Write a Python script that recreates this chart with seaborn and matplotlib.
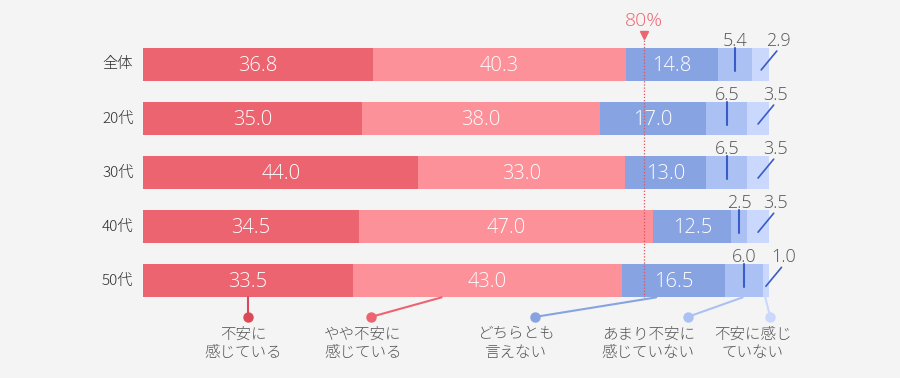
import matplotlib
matplotlib.use("Agg")
import numpy as np
import pandas as pd
import matplotlib.pyplot as plt
import seaborn as sns

# data
groups = ["全体", "20代", "30代", "40代", "50代"]
anxious = [36.8, 35.0, 44.0, 34.5, 33.5]
somewhat_anxious = [40.3, 38.0, 33.0, 47.0, 43.0]
neither = [14.8, 17.0, 13.0, 12.5, 16.5]
not_very = [5.4, 6.5, 6.5, 2.5, 6.0]
not_at_all = [2.9, 3.5, 3.5, 3.5, 1.0]
legend_labels = ["不安に\n感じている", "やや不安に\n感じている", "どちらとも\n言えない",
                 "あまり不安に\n感じていない", "不安に感じ\nていない"]
marker_pct = 80

colors = ["#ec6470", "#fc9199", "#87a3e1", "#abc1f4", "#c9d8fc"]
dot_colors = ["#dc4a58", "#ec6470", "#87a3e1", "#abc1f4", "#c9d8fc"]
bg = "#f4f4f4"

sns.set_theme(style="white")
plt.rcParams["font.family"] = ["Noto Sans CJK JP", "DejaVu Sans"]
num_font = ["Open Sans", "Noto Sans CJK JP", "DejaVu Sans"]

df = pd.DataFrame({
    "group": groups,
    "s1": anxious, "s2": somewhat_anxious, "s3": neither,
    "s4": not_very, "s5": not_at_all,
})
segs = ["s1", "s2", "s3", "s4", "s5"]
cum = df[segs].cumsum(axis=1)

fig = plt.figure(figsize=(9, 3.78), dpi=100, facecolor=bg)
ax = fig.add_axes([143 / 900, 1 - 362 / 378, 626 / 900, (362 - 10.4) / 378])
ax.set_facecolor(bg)

# stacked bars: draw cumulative totals from longest to shortest
for k in range(4, -1, -1):
    sns.barplot(x=cum[segs[k]], y=df["group"], orient="h", color=colors[k],
                saturation=1, width=0.61, linewidth=0, ax=ax)

ax.set_xlim(0, 100)
ax.set_ylim(5.5, -1)
ax.axis("off")

text_gray = "#555555"
line_blue = "#3a5cc6"

for i in range(len(groups)):
    ax.text(-6.55, i, groups[i], ha="left", va="center", fontsize=11, color="#2e2e2e",
            fontweight="light")
    starts = np.concatenate([[0], cum.iloc[i].values[:-1]])
    vals = df.loc[i, segs].values
    mids = starts + vals / 2
    for k in range(3):
        ax.text(mids[k], i + 0.03, f"{vals[k]:.1f}", ha="center", va="center",
                fontsize=14.5, color="white", family=num_font, fontweight="light")
    # 4th segment: vertical leader
    ax.plot([mids[3], mids[3]], [i - 0.305, i + 0.12], color=line_blue, lw=1.5, zorder=5)
    ax.text(mids[3], i - 0.35, f"{vals[3]:.1f}", ha="center", va="baseline",
            fontsize=13, color=text_gray, family=num_font, fontweight="light")
    # 5th segment: diagonal leader
    ax.plot([mids[4], mids[4] + 2.5], [i + 0.1, i - 0.25], color=line_blue, lw=1.2,
            zorder=5, clip_on=False)
    ax.text(mids[4] + 2.8, i - 0.35, f"{vals[4]:.1f}", ha="center", va="baseline",
            fontsize=13, color=text_gray, clip_on=False, family=num_font,
            fontweight="light")

# 80% marker
ax.plot([marker_pct, marker_pct], [-0.5, 4.305], color="#e0505e", lw=0.9,
        linestyle=(0, (1, 1.5)), zorder=6)
ax.plot([marker_pct], [-0.54], marker="v", color="#ec6470", markersize=6, zorder=6)
ax.text(marker_pct, -0.8, f"{marker_pct}%", ha="center", va="center",
        fontsize=14, color="#ec6470", family=num_font, fontweight="light")

# legend under the last bar
bar_bottom = 4 + 0.305
dot_y = 4.667
line_start = [16.75, 47.7, 82.0, 95.8, 99.4]
dot_x = [16.75, 36.4, 62.6, 87.0, 100.2]
text_x = [16.05, 35.1, 59.5, 80.7, 97.4]
for k in range(5):
    ax.plot([line_start[k], dot_x[k]], [bar_bottom, dot_y], color=dot_colors[k],
            lw=1.5, zorder=1, clip_on=False)
    ax.plot([dot_x[k]], [dot_y], marker="o", color=dot_colors[k], markersize=6.5,
            zorder=2, clip_on=False)
    ax.text(text_x[k], 5.15, legend_labels[k], ha="center", va="center",
            fontsize=11.2, color=text_gray, linespacing=1.1, clip_on=False,
            fontweight="light")

fig.savefig("out.png", dpi=100, facecolor=bg)
